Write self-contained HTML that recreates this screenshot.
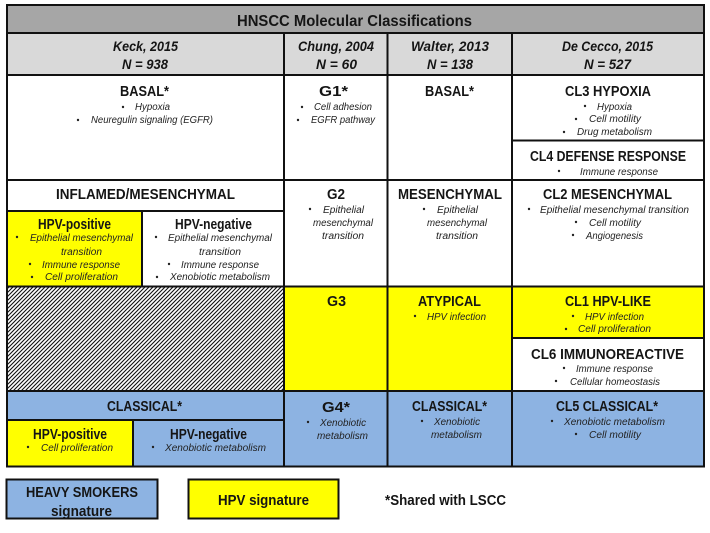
<!DOCTYPE html>
<html><head><meta charset="utf-8"><style>
html,body{margin:0;padding:0;background:#fff;width:710px;height:533px;overflow:hidden}
svg{display:block}
text{font-family:"Liberation Sans",sans-serif;fill:#151515}
.t{font-weight:bold;font-size:14.5px}
.h{font-weight:bold;font-style:italic;font-size:13.5px}
.s{font-style:italic;font-size:10px;fill:#222}
.l{fill:none;stroke:#111;stroke-width:2}
</style></head><body>
<svg width="710" height="533" viewBox="0 0 710 533" xmlns="http://www.w3.org/2000/svg">
<defs><pattern id="hatch" width="4" height="4" patternUnits="userSpaceOnUse"><rect width="4" height="4" fill="#fff"/><path d="M-1 1L1 -1M0 4L4 0M3 5L5 3" stroke="#111" stroke-width="1.1" fill="none"/></pattern></defs>
<rect x="7" y="5" width="697" height="28" fill="#a6a6a6"/>
<rect x="7" y="33" width="697" height="42" fill="#d9d9d9"/>
<rect x="7" y="211" width="135" height="75.500" fill="#ff0"/>
<rect x="7" y="286.500" width="277" height="104.500" fill="url(#hatch)"/>
<rect x="284" y="286.500" width="228" height="104.500" fill="#ff0"/>
<rect x="512" y="286.500" width="192" height="51.500" fill="#ff0"/>
<rect x="7" y="391" width="697" height="75.500" fill="#8db3e2"/>
<rect x="7" y="420" width="126" height="46.500" fill="#ff0"/>
<rect x="6.500" y="479.500" width="151" height="39" fill="#8db3e2" stroke="#111" stroke-width="2"/>
<rect x="188.500" y="479.500" width="150" height="39" fill="#ff0" stroke="#111" stroke-width="2"/>
<path class="l" d="M7 5H704V466.500H7Z M7 33H704 M7 75H704 M7 180H704 M7 211H284 M7 286.500H704 M7 391H704 M7 420H284 M512 140.500H704 M512 338H704 M284 33V466.500 M387.500 33V466.500 M512 33V466.500 M142 211V286.500 M133 420V466.500"/>

<text class="t" style="font-size:16px" x="237" y="26" textLength="235" lengthAdjust="spacingAndGlyphs">HNSCC Molecular Classifications</text>
<text class="h" x="113" y="51" textLength="65" lengthAdjust="spacingAndGlyphs">Keck, 2015</text>
<text class="h" x="122" y="69" textLength="46" lengthAdjust="spacingAndGlyphs">N = 938</text>
<text class="h" x="298" y="51" textLength="76" lengthAdjust="spacingAndGlyphs">Chung, 2004</text>
<text class="h" x="316" y="69" textLength="41" lengthAdjust="spacingAndGlyphs">N = 60</text>
<text class="h" x="411" y="51" textLength="78" lengthAdjust="spacingAndGlyphs">Walter, 2013</text>
<text class="h" x="427" y="69" textLength="46" lengthAdjust="spacingAndGlyphs">N = 138</text>
<text class="h" x="562" y="51" textLength="91" lengthAdjust="spacingAndGlyphs">De Cecco, 2015</text>
<text class="h" x="584" y="69" textLength="47" lengthAdjust="spacingAndGlyphs">N = 527</text>

<text class="t" x="120" y="96" textLength="49" lengthAdjust="spacingAndGlyphs">BASAL*</text>
<text class="t" x="319" y="96" textLength="29" lengthAdjust="spacingAndGlyphs">G1*</text>
<text class="t" x="425" y="96" textLength="49" lengthAdjust="spacingAndGlyphs">BASAL*</text>
<text class="t" x="565" y="96" textLength="86" lengthAdjust="spacingAndGlyphs">CL3 HYPOXIA</text>
<text class="t" x="530" y="161" textLength="156" lengthAdjust="spacingAndGlyphs">CL4 DEFENSE RESPONSE</text>
<text class="t" x="56" y="199" textLength="179" lengthAdjust="spacingAndGlyphs">INFLAMED/MESENCHYMAL</text>
<text class="t" x="327" y="199" textLength="18" lengthAdjust="spacingAndGlyphs">G2</text>
<text class="t" x="398" y="199" textLength="104" lengthAdjust="spacingAndGlyphs">MESENCHYMAL</text>
<text class="t" x="543" y="199" textLength="129" lengthAdjust="spacingAndGlyphs">CL2 MESENCHYMAL</text>
<text class="t" x="38" y="229" textLength="73" lengthAdjust="spacingAndGlyphs">HPV-positive</text>
<text class="t" x="175" y="229" textLength="77" lengthAdjust="spacingAndGlyphs">HPV-negative</text>
<text class="t" x="327" y="306" textLength="19" lengthAdjust="spacingAndGlyphs">G3</text>
<text class="t" x="418" y="306" textLength="63" lengthAdjust="spacingAndGlyphs">ATYPICAL</text>
<text class="t" x="565" y="306" textLength="86" lengthAdjust="spacingAndGlyphs">CL1 HPV-LIKE</text>
<text class="t" x="531" y="359" textLength="153" lengthAdjust="spacingAndGlyphs">CL6 IMMUNOREACTIVE</text>
<text class="t" x="107" y="411" textLength="75" lengthAdjust="spacingAndGlyphs">CLASSICAL*</text>
<text class="t" x="322" y="412" textLength="28" lengthAdjust="spacingAndGlyphs">G4*</text>
<text class="t" x="412" y="411" textLength="75" lengthAdjust="spacingAndGlyphs">CLASSICAL*</text>
<text class="t" x="556" y="411" textLength="102" lengthAdjust="spacingAndGlyphs">CL5 CLASSICAL*</text>
<text class="t" x="33" y="439" textLength="74" lengthAdjust="spacingAndGlyphs">HPV-positive</text>
<text class="t" x="170" y="439" textLength="77" lengthAdjust="spacingAndGlyphs">HPV-negative</text>
<text class="t" x="26" y="497" textLength="112" lengthAdjust="spacingAndGlyphs">HEAVY SMOKERS</text>
<text class="t" x="51" y="516" textLength="61" lengthAdjust="spacingAndGlyphs">signature</text>
<text class="t" x="218" y="505" textLength="91" lengthAdjust="spacingAndGlyphs">HPV signature</text>
<text class="t" x="385" y="505" textLength="121" lengthAdjust="spacingAndGlyphs">*Shared with LSCC</text>

<g fill="#222">
<circle cx="123" cy="107" r="1.200"/><circle cx="78" cy="120" r="1.200"/><circle cx="302" cy="107" r="1.200"/><circle cx="298" cy="120" r="1.200"/>
<circle cx="585" cy="106" r="1.200"/><circle cx="576" cy="119" r="1.200"/><circle cx="564" cy="132" r="1.200"/><circle cx="559" cy="171" r="1.200"/>
<circle cx="17" cy="237" r="1.200"/><circle cx="30" cy="264" r="1.200"/><circle cx="32" cy="277" r="1.200"/>
<circle cx="156" cy="237" r="1.200"/><circle cx="169" cy="264" r="1.200"/><circle cx="157" cy="277" r="1.200"/>
<circle cx="310" cy="209" r="1.200"/><circle cx="424" cy="209" r="1.200"/><circle cx="529" cy="209" r="1.200"/><circle cx="576" cy="222" r="1.200"/><circle cx="573" cy="235" r="1.200"/>
<circle cx="415" cy="316" r="1.200"/><circle cx="573" cy="316" r="1.200"/><circle cx="566" cy="329" r="1.200"/><circle cx="564" cy="368" r="1.200"/><circle cx="556" cy="381" r="1.200"/>
<circle cx="308" cy="422" r="1.200"/><circle cx="422" cy="421" r="1.200"/><circle cx="552" cy="421" r="1.200"/><circle cx="576" cy="434" r="1.200"/>
<circle cx="28" cy="447" r="1.200"/><circle cx="153" cy="447" r="1.200"/>
</g>

<text class="s" x="135" y="110" textLength="35" lengthAdjust="spacingAndGlyphs">Hypoxia</text>
<text class="s" x="91" y="123" textLength="122" lengthAdjust="spacingAndGlyphs">Neuregulin signaling (EGFR)</text>
<text class="s" x="314" y="110" textLength="58" lengthAdjust="spacingAndGlyphs">Cell adhesion</text>
<text class="s" x="311" y="123" textLength="64" lengthAdjust="spacingAndGlyphs">EGFR pathway</text>
<text class="s" x="597" y="110" textLength="35" lengthAdjust="spacingAndGlyphs">Hypoxia</text>
<text class="s" x="589" y="122" textLength="52" lengthAdjust="spacingAndGlyphs">Cell motility</text>
<text class="s" x="577" y="135" textLength="75" lengthAdjust="spacingAndGlyphs">Drug metabolism</text>
<text class="s" x="580" y="175" textLength="78" lengthAdjust="spacingAndGlyphs">Immune response</text>
<text class="s" x="30" y="241" textLength="103" lengthAdjust="spacingAndGlyphs">Epithelial mesenchymal</text>
<text class="s" x="61" y="255" textLength="41" lengthAdjust="spacingAndGlyphs">transition</text>
<text class="s" x="42" y="268" textLength="78" lengthAdjust="spacingAndGlyphs">Immune response</text>
<text class="s" x="45" y="280" textLength="73" lengthAdjust="spacingAndGlyphs">Cell proliferation</text>
<text class="s" x="168" y="241" textLength="104" lengthAdjust="spacingAndGlyphs">Epithelial mesenchymal</text>
<text class="s" x="199" y="255" textLength="42" lengthAdjust="spacingAndGlyphs">transition</text>
<text class="s" x="181" y="268" textLength="78" lengthAdjust="spacingAndGlyphs">Immune response</text>
<text class="s" x="170" y="280" textLength="100" lengthAdjust="spacingAndGlyphs">Xenobiotic metabolism</text>
<text class="s" x="323" y="213" textLength="41" lengthAdjust="spacingAndGlyphs">Epithelial</text>
<text class="s" x="313" y="226" textLength="60" lengthAdjust="spacingAndGlyphs">mesenchymal</text>
<text class="s" x="322" y="239" textLength="42" lengthAdjust="spacingAndGlyphs">transition</text>
<text class="s" x="437" y="213" textLength="41" lengthAdjust="spacingAndGlyphs">Epithelial</text>
<text class="s" x="427" y="226" textLength="60" lengthAdjust="spacingAndGlyphs">mesenchymal</text>
<text class="s" x="436" y="239" textLength="42" lengthAdjust="spacingAndGlyphs">transition</text>
<text class="s" x="540" y="213" textLength="149" lengthAdjust="spacingAndGlyphs">Epithelial mesenchymal transition</text>
<text class="s" x="589" y="226" textLength="52" lengthAdjust="spacingAndGlyphs">Cell motility</text>
<text class="s" x="586" y="239" textLength="57" lengthAdjust="spacingAndGlyphs">Angiogenesis</text>
<text class="s" x="427" y="320" textLength="59" lengthAdjust="spacingAndGlyphs">HPV infection</text>
<text class="s" x="585" y="320" textLength="59" lengthAdjust="spacingAndGlyphs">HPV infection</text>
<text class="s" x="578" y="332" textLength="73" lengthAdjust="spacingAndGlyphs">Cell proliferation</text>
<text class="s" x="576" y="372" textLength="77" lengthAdjust="spacingAndGlyphs">Immune response</text>
<text class="s" x="570" y="385" textLength="90" lengthAdjust="spacingAndGlyphs">Cellular homeostasis</text>
<text class="s" x="320" y="426" textLength="46" lengthAdjust="spacingAndGlyphs">Xenobiotic</text>
<text class="s" x="317" y="439" textLength="51" lengthAdjust="spacingAndGlyphs">metabolism</text>
<text class="s" x="434" y="425" textLength="46" lengthAdjust="spacingAndGlyphs">Xenobiotic</text>
<text class="s" x="431" y="438" textLength="51" lengthAdjust="spacingAndGlyphs">metabolism</text>
<text class="s" x="564" y="425" textLength="101" lengthAdjust="spacingAndGlyphs">Xenobiotic metabolism</text>
<text class="s" x="589" y="438" textLength="52" lengthAdjust="spacingAndGlyphs">Cell motility</text>
<text class="s" x="41" y="451" textLength="72" lengthAdjust="spacingAndGlyphs">Cell proliferation</text>
<text class="s" x="165" y="451" textLength="101" lengthAdjust="spacingAndGlyphs">Xenobiotic metabolism</text>
</svg>
</body></html>
